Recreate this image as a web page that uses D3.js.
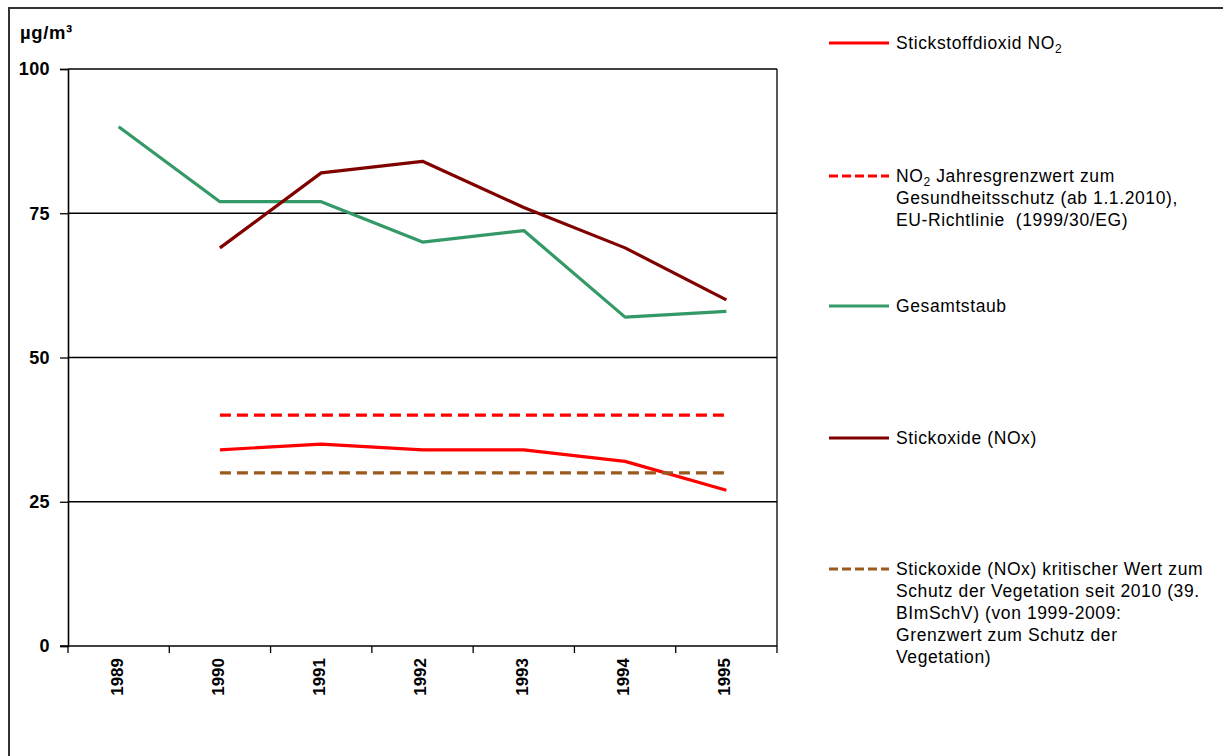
<!DOCTYPE html>
<html><head><meta charset="utf-8">
<script src="https://cdn.jsdelivr.net/npm/d3@7"></script>
<style>
html,body{margin:0;padding:0;background:#fff;}
svg{display:block;}
text{font-family:"Liberation Sans",Arial,sans-serif;fill:#000;}
</style></head>
<body>
<svg id="chart" width="1223" height="756"></svg>
<script>
const years = ["1989","1990","1991","1992","1993","1994","1995"];
const no2 = [null, 34, 35, 34, 34, 32, 27];
const no2Limit = [null, 40, 40, 40, 40, 40, 40];
const gesamtstaub = [90, 77, 77, 70, 72, 57, 58];
const nox = [null, 69, 82, 84, 76, 69, 60];
const noxCritical = [null, 30, 30, 30, 30, 30, 30];
const yTicks = [0, 25, 50, 75, 100];
const yUnit = "µg/m³";

const seriesList = [
  {values: no2, color: "#ff0000", dash: null, legend: [["Stickstoffdioxid NO", "2", ""]]},
  {values: no2Limit, color: "#ff0000", dash: "11,6", legend: [["NO", "2", " Jahresgrenzwert zum"], ["Gesundheitsschutz (ab 1.1.2010),"], ["EU-Richtlinie  (1999/30/EG)"]]},
  {values: gesamtstaub, color: "#339966", dash: null, legend: [["Gesamtstaub"]]},
  {values: nox, color: "#800000", dash: null, legend: [["Stickoxide (NOx)"]]},
  {values: noxCritical, color: "#9a5a1e", dash: "11,6", legend: [["Stickoxide (NOx) kritischer Wert zum"], ["Schutz der Vegetation seit 2010 (39."], ["BImSchV) (von 1999-2009:"], ["Grenzwert zum Schutz der"], ["Vegetation)"]]}
];
const legendY = [43, 176, 306, 438, 569];

const svg = d3.select("#chart");
svg.append("rect").attr("x", 9).attr("y", 8).attr("width", 1240).attr("height", 780)
  .attr("fill", "none").attr("stroke", "#333").attr("stroke-width", 2);

const pL = 68, pR = 777, pT = 69, pB = 646;
const x = d3.scaleBand().domain(years).range([pL, pR]).padding(0);
const y = d3.scaleLinear().domain([0, 100]).range([pB, pT]);

svg.append("g").selectAll("line").data(yTicks.filter(d => d > 0)).join("line")
  .attr("x1", pL).attr("x2", pR).attr("y1", d => y(d)).attr("y2", d => y(d))
  .attr("stroke", "#000").attr("stroke-width", 1.3);
svg.append("line").attr("x1", pR).attr("x2", pR).attr("y1", pT).attr("y2", pB)
  .attr("stroke", "#000").attr("stroke-width", 1.3);

const yAxis = svg.append("g").attr("transform", `translate(${pL},0)`)
  .call(d3.axisLeft(y).tickValues(yTicks).tickSize(8).tickPadding(10).tickFormat(d3.format("d")));
yAxis.select(".domain").attr("stroke", "#000").attr("stroke-width", 1.6);
yAxis.selectAll(".tick line").attr("stroke", "#000").attr("stroke-width", 1.3);
yAxis.selectAll("text").attr("font-size", 18).attr("font-weight", "bold").attr("letter-spacing", 0.4)
  .attr("font-family", "Liberation Sans, Arial, sans-serif").attr("fill", "#000");

const xg = svg.append("g").attr("transform", `translate(0,${pB})`);
xg.append("line").attr("x1", pL - 8).attr("x2", pR).attr("y1", 0).attr("y2", 0)
  .attr("stroke", "#000").attr("stroke-width", 1.6);
const bounds = years.map(d => x(d)).concat([x(years[years.length - 1]) + x.bandwidth()]);
xg.selectAll("line.tk").data(bounds).join("line").attr("class", "tk")
  .attr("x1", d => d).attr("x2", d => d).attr("y1", 0).attr("y2", 7)
  .attr("stroke", "#000").attr("stroke-width", 1.3);
xg.selectAll("text").data(years).join("text")
  .attr("transform", d => `translate(${x(d) + x.bandwidth() / 2 - 2},12) rotate(-90)`)
  .attr("text-anchor", "end").attr("dy", "0.35em")
  .attr("font-size", 17).attr("font-weight", "bold").text(d => d);

svg.append("text").attr("x", 20).attr("y", 39).attr("font-size", 18.5).attr("font-weight", "bold")
  .attr("letter-spacing", 0.6).text(yUnit);

const line = d3.line().defined(d => d != null)
  .x((d, i) => x(years[i]) + x.bandwidth() / 2).y(d => y(d));
seriesList.forEach(s => {
  svg.append("path").datum(s.values).attr("d", line).attr("fill", "none")
    .attr("stroke", s.color).attr("stroke-width", 3.2)
    .attr("stroke-dasharray", s.dash).attr("stroke-linejoin", "round");
});

seriesList.forEach((s, i) => {
  const ly = legendY[i];
  svg.append("line").attr("x1", 829).attr("x2", 889).attr("y1", ly).attr("y2", ly)
    .attr("stroke", s.color).attr("stroke-width", 3.2)
    .attr("stroke-dasharray", s.dash ? "9,4" : null);
  s.legend.forEach((ln, j) => {
    const t = svg.append("text").attr("x", 896).attr("y", ly + j * 22).attr("dy", "0.35em")
      .attr("font-size", 17.5).attr("letter-spacing", 0.6).attr("fill", "#111")
      .style("white-space", "pre");
    t.append("tspan").text(ln[0]);
    if (ln.length > 1) {
      t.append("tspan").attr("font-size", 12).attr("dy", 4).text(ln[1]);
      if (ln[2]) t.append("tspan").attr("dy", -4).text(ln[2]);
    }
  });
});
</script>
</body></html>
